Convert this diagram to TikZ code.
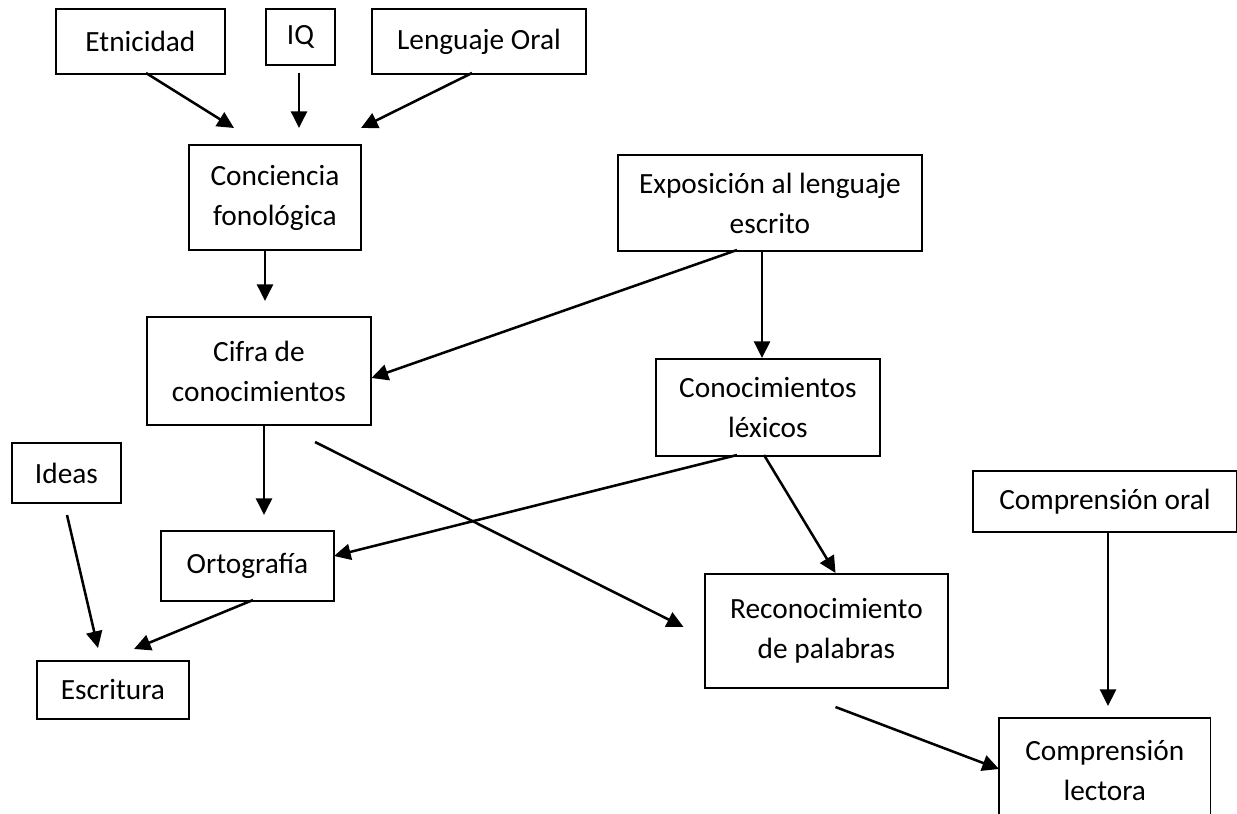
\documentclass[tikz,border=0pt]{standalone}
\usepackage{fontspec}
\setmainfont{Carlito}
\usetikzlibrary{arrows.meta}
\begin{document}
\begin{tikzpicture}[x=0.75pt,y=-0.75pt,
 box/.style={draw, line width=1.4pt, inner sep=0pt, align=center, anchor=north west, font=\fontsize{22}{30}\selectfont},
 openbox/.style={inner sep=0pt, align=center, anchor=north west, font=\fontsize{22}{30}\selectfont},
 arr/.style={line width=1.9pt, -{Triangle[length=12.5pt,width=12pt]}},
 side/.style={line width=1.4pt}]
\useasboundingbox (0,0) rectangle (1237,813);
\newcommand\mkbox[7][box]{\node[#1, minimum width={(#5-#3)*0.75pt}, minimum height={(#6-#4)*0.75pt}] (#2) at (#3,#4) {#7};}
\mkbox{etn}{55}{8}{224}{73}{Etnicidad}
\mkbox{iq}{265}{8}{334}{64}{IQ}
\mkbox{leo}{371}{8}{585}{73}{Lenguaje Oral}
\mkbox{conc}{188}{144}{360}{249}{Conciencia\\fonológica}
\mkbox{exp}{617}{154}{921}{250}{Exposición al lenguaje\\escrito}
\mkbox{cifra}{146}{316}{370}{424}{Cifra de\\conocimientos}
\mkbox{lex}{655}{358}{879}{455}{Conocimientos\\léxicos}
\mkbox{ideas}{11}{442}{120}{502}{Ideas}
\mkbox{coral}{972}{470}{1236}{531}{Comprensión oral}
\mkbox{orto}{160}{530}{333}{600}{Ortografía}
\mkbox{recon}{704}{573}{947}{687}{Reconocimiento\\de palabras}
\mkbox{escr}{36}{660}{188}{718}{Escritura}
\mkbox[openbox]{lect}{999}{718}{1210}{822}{Comprensión\\lectora}
\draw[side] (lect.south west) -- (lect.north west) -- (lect.north east) -- (lect.south east);
% connector end points
\coordinate (etnS) at (146,73);   \coordinate (concA) at (234,128);
\coordinate (iqS) at (299,73);    \coordinate (concB) at (299,128);
\coordinate (leoS) at (472,73);   \coordinate (concC) at (361,128);
\coordinate (concS) at (265,249); \coordinate (cifraT) at (265,301);
\coordinate (expA) at (737,250);  \coordinate (cifraR) at (371.5,378);
\coordinate (expB) at (762,250);  \coordinate (lexT) at (762,358);
\coordinate (cifraS) at (264,424);\coordinate (ortoT) at (264,515);
\coordinate (cifraX) at (315,442);\coordinate (reconL) at (683.5,627);
\coordinate (lexA) at (737,455);  \coordinate (ortoR) at (334,556);
\coordinate (lexB) at (764,455);  \coordinate (reconT) at (835.5,573);
\coordinate (ideasS) at (67,515); \coordinate (escrA) at (98,648);
\coordinate (ortoS) at (253,600); \coordinate (escrB) at (134,649);
\coordinate (reconS) at (835.5,707); \coordinate (lectL) at (999,769);
\coordinate (coralS) at (1108,531);  \coordinate (lectT) at (1108,706);
\draw[arr] (etnS) -- (concA);
\draw[arr] (iqS) -- (concB);
\draw[arr] (leoS) -- (concC);
\draw[arr] (concS) -- (cifraT);
\draw[arr] (expA) -- (cifraR);
\draw[arr] (expB) -- (lexT);
\draw[arr] (cifraS) -- (ortoT);
\draw[arr] (cifraX) -- (reconL);
\draw[arr] (lexA) -- (ortoR);
\draw[arr] (lexB) -- (reconT);
\draw[arr] (ideasS) -- (escrA);
\draw[arr] (ortoS) -- (escrB);
\draw[arr] (reconS) -- (lectL);
\draw[arr] (coralS) -- (lectT);
\end{tikzpicture}
\end{document}
